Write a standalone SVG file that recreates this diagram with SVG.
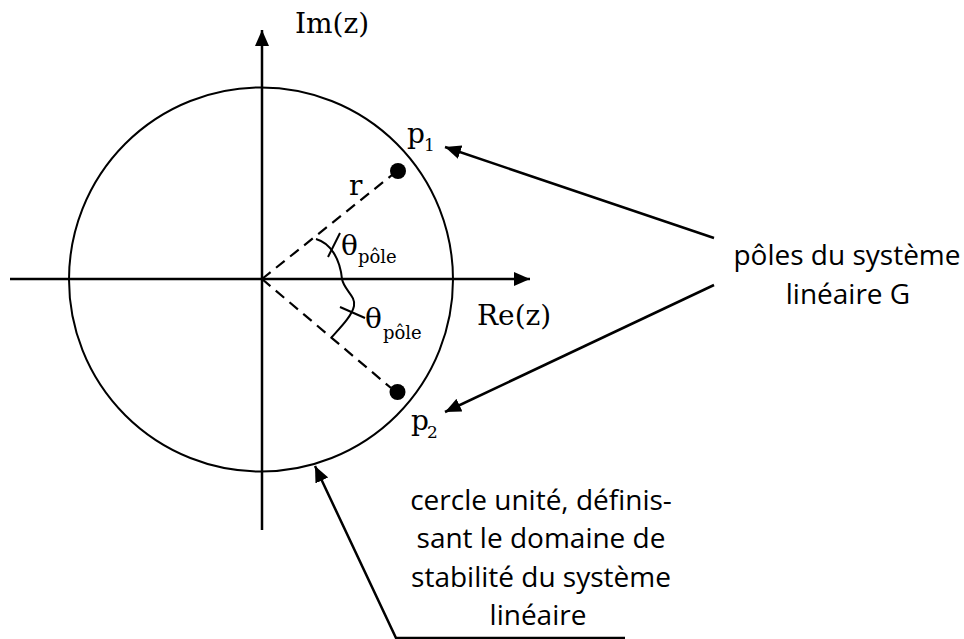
<svg xmlns="http://www.w3.org/2000/svg" width="964" height="639" viewBox="0 0 964 639">
<style>
.ax{stroke:#000;stroke-width:2.5;fill:none}
.con{stroke:#000;stroke-width:2.5;fill:none;marker-end:url(#ah)}
.thin{stroke:#000;stroke-width:2;fill:none}
.dash{stroke:#000;stroke-width:2.2;fill:none;stroke-dasharray:11 7}
.ser{font-family:"DejaVu Serif","Liberation Serif",serif;fill:#000}
.sans{font-family:"Open Sans","Noto Sans",sans-serif;font-size:28px;fill:#000;text-anchor:middle}
</style>
<defs>
<marker id="ah" markerUnits="userSpaceOnUse" markerWidth="16" markerHeight="14" refX="16" refY="7" orient="auto">
<path d="M0,0 L16,7 L0,14 z" fill="#000"/>
</marker>
</defs>
<rect width="964" height="639" fill="#fff"/>
<g id="axes">
<line class="con" x1="10" y1="279" x2="530" y2="279"/>
<line class="con" x1="262" y1="530" x2="262" y2="30"/>
<text class="ser" x="295" y="33" font-size="28">Im(z)</text>
<text class="ser" x="477" y="325" font-size="28">Re(z)</text>
</g>
<g id="circle">
<circle cx="261" cy="279.5" r="192" stroke="#000" stroke-width="2" fill="none"/>
</g>
<g id="radii">
<line class="dash" x1="262" y1="279" x2="392" y2="175"/>
<line class="dash" x1="262" y1="279" x2="391" y2="388"/>
<text class="ser" x="349" y="195" font-size="28">r</text>
</g>
<g id="angle1">
<path class="thin" d="M316,239 C330,243 340,258 342,279"/>
<line class="thin" x1="328" y1="257" x2="340" y2="233"/>
<text class="ser" x="341" y="255" font-size="28">θ</text>
<text class="ser" x="358" y="263" font-size="18">pôle</text>
</g>
<g id="angle2">
<path class="thin" d="M342,279 C344,290 356,296 354,306 C352,316 340,328 331,338"/>
<line class="thin" x1="340" y1="307" x2="365" y2="318"/>
<text class="ser" x="365" y="328" font-size="28">θ</text>
<text class="ser" x="383" y="339" font-size="18">pôle</text>
</g>
<g id="p1">
<circle cx="398" cy="171" r="8" fill="#000"/>
<text class="ser" x="407" y="143" font-size="28">p</text>
<text class="ser" x="424" y="151" font-size="17">1</text>
</g>
<g id="p2">
<circle cx="397.5" cy="392" r="8" fill="#000"/>
<text class="ser" x="411" y="430" font-size="28">p</text>
<text class="ser" x="427" y="438" font-size="17">2</text>
</g>
<g id="poles-label">
<text class="sans" x="847" y="265">pôles du système</text>
<text class="sans" x="848" y="304">linéaire G</text>
</g>
<g id="circle-label">
<text class="sans" x="541" y="510">cercle unité, définis-</text>
<text class="sans" x="541" y="548">sant le domaine de</text>
<text class="sans" x="541" y="587">stabilité du système</text>
<text class="sans" x="538" y="625">linéaire</text>
</g>
<g id="connectors">
<line class="con" x1="714" y1="238" x2="445" y2="147"/>
<line class="con" x1="714" y1="285" x2="445" y2="412"/>
<polyline class="con" points="625,638 396,638 315,466"/>
</g>
</svg>
